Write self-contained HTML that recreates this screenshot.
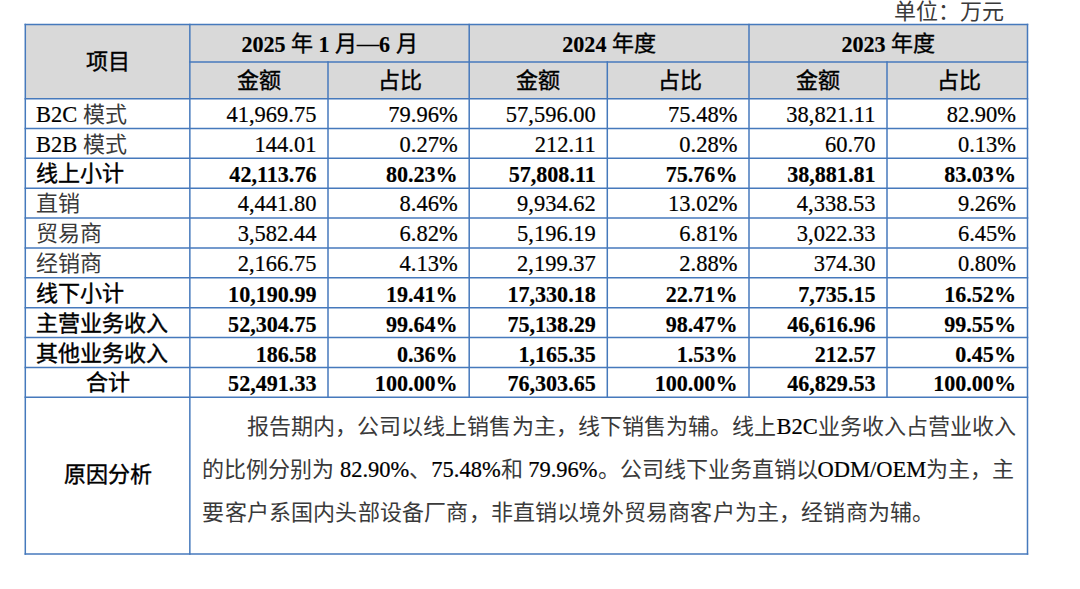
<!DOCTYPE html>
<html lang="zh-CN"><head><meta charset="utf-8"><style>
html,body{margin:0;padding:0;background:#fff;width:1080px;height:589px;overflow:hidden;}
body{position:relative;font-family:"Liberation Serif",serif;font-size:22px;color:#000;}
.t{position:absolute;white-space:nowrap;}
.b{font-weight:bold;}
.c{color:#3a3a3a;}
.b .c{color:#000;font-weight:normal;-webkit-text-stroke:0.4px #000;}
.l{display:inline-block;font-size:22.5px;transform:scaleY(1.06);transform-origin:0 var(--o);}
.l{-webkit-text-stroke:0.2px #000;}
.b .l{font-size:22.1px;transform:scaleY(1.09);position:relative;top:1.0px;-webkit-text-stroke:0.15px #000;}
svg{position:absolute;left:0;top:0;}
</style></head><body>
<svg width="1080" height="589">
<g><rect x="25.3" y="24.6" width="1002.2" height="74.05000000000001" fill="#d9d9d9"/></g>
<g stroke="#4679bc" stroke-width="1.5">
<line x1="24.55" y1="24.60" x2="1028.25" y2="24.60"/>
<line x1="189.10" y1="61.90" x2="1028.25" y2="61.90"/>
<line x1="24.55" y1="98.65" x2="1028.25" y2="98.65"/>
<line x1="24.55" y1="128.51" x2="1028.25" y2="128.51"/>
<line x1="24.55" y1="158.37" x2="1028.25" y2="158.37"/>
<line x1="24.55" y1="188.23" x2="1028.25" y2="188.23"/>
<line x1="24.55" y1="218.09" x2="1028.25" y2="218.09"/>
<line x1="24.55" y1="247.95" x2="1028.25" y2="247.95"/>
<line x1="24.55" y1="277.81" x2="1028.25" y2="277.81"/>
<line x1="24.55" y1="307.67" x2="1028.25" y2="307.67"/>
<line x1="24.55" y1="337.53" x2="1028.25" y2="337.53"/>
<line x1="24.55" y1="367.39" x2="1028.25" y2="367.39"/>
<line x1="24.55" y1="397.25" x2="1028.25" y2="397.25"/>
<line x1="24.55" y1="553.90" x2="1028.25" y2="553.90"/>
<line x1="25.30" y1="23.85" x2="25.30" y2="554.65"/>
<line x1="1027.50" y1="23.85" x2="1027.50" y2="554.65"/>
<line x1="189.85" y1="23.85" x2="189.85" y2="554.65"/>
<line x1="328.00" y1="61.15" x2="328.00" y2="398.00"/>
<line x1="607.30" y1="61.15" x2="607.30" y2="398.00"/>
<line x1="887.00" y1="61.15" x2="887.00" y2="398.00"/>
<line x1="469.20" y1="23.85" x2="469.20" y2="398.00"/>
<line x1="749.00" y1="23.85" x2="749.00" y2="398.00"/>
</g></svg>
<div class="t" style="left:800.00px;top:0.00px;width:203.50px;height:24.00px;line-height:24.00px;text-align:right;--o:19.43px;"><span class="c">单位：万元</span></div>
<div class="t b" style="left:25.30px;top:24.60px;width:164.55px;height:74.05px;line-height:74.05px;text-align:center;--o:44.46px;"><span class="c">项目</span></div>
<div class="t b" style="left:189.85px;top:25.30px;width:279.35px;height:37.30px;line-height:37.30px;text-align:center;--o:26.08px;"><span class="l">2025</span> <span class="c">年</span> <span class="l">1</span> <span class="c">月—</span><span class="l">6</span> <span class="c">月</span></div>
<div class="t b" style="left:469.20px;top:25.30px;width:279.80px;height:37.30px;line-height:37.30px;text-align:center;--o:26.08px;"><span class="l">2024</span> <span class="c">年度</span></div>
<div class="t b" style="left:749.00px;top:25.30px;width:278.50px;height:37.30px;line-height:37.30px;text-align:center;--o:26.08px;"><span class="l">2023</span> <span class="c">年度</span></div>
<div class="t b" style="left:189.85px;top:62.90px;width:138.15px;height:36.75px;line-height:36.75px;text-align:center;--o:25.81px;"><span class="c">金额</span></div>
<div class="t b" style="left:329.60px;top:62.90px;width:141.20px;height:36.75px;line-height:36.75px;text-align:center;--o:25.81px;"><span class="c">占比</span></div>
<div class="t b" style="left:469.20px;top:62.90px;width:138.10px;height:36.75px;line-height:36.75px;text-align:center;--o:25.81px;"><span class="c">金额</span></div>
<div class="t b" style="left:608.90px;top:62.90px;width:141.70px;height:36.75px;line-height:36.75px;text-align:center;--o:25.81px;"><span class="c">占比</span></div>
<div class="t b" style="left:749.00px;top:62.90px;width:138.00px;height:36.75px;line-height:36.75px;text-align:center;--o:25.81px;"><span class="c">金额</span></div>
<div class="t b" style="left:888.60px;top:62.90px;width:140.50px;height:36.75px;line-height:36.75px;text-align:center;--o:25.81px;"><span class="c">占比</span></div>
<div class="t" style="left:36.00px;top:99.65px;width:153.85px;height:29.86px;line-height:29.86px;text-align:left;--o:22.36px;"><span class="l">B2C</span> <span class="c">模式</span></div>
<div class="t" style="left:189.85px;top:99.65px;width:126.65px;height:29.86px;line-height:29.86px;text-align:right;--o:22.36px;"><span class="l">41,969.75</span></div>
<div class="t" style="left:328.00px;top:99.65px;width:129.70px;height:29.86px;line-height:29.86px;text-align:right;--o:22.36px;"><span class="l">79.96%</span></div>
<div class="t" style="left:469.20px;top:99.65px;width:126.60px;height:29.86px;line-height:29.86px;text-align:right;--o:22.36px;"><span class="l">57,596.00</span></div>
<div class="t" style="left:607.30px;top:99.65px;width:130.20px;height:29.86px;line-height:29.86px;text-align:right;--o:22.36px;"><span class="l">75.48%</span></div>
<div class="t" style="left:749.00px;top:99.65px;width:126.50px;height:29.86px;line-height:29.86px;text-align:right;--o:22.36px;"><span class="l">38,821.11</span></div>
<div class="t" style="left:887.00px;top:99.65px;width:129.00px;height:29.86px;line-height:29.86px;text-align:right;--o:22.36px;"><span class="l">82.90%</span></div>
<div class="t" style="left:36.00px;top:129.51px;width:153.85px;height:29.86px;line-height:29.86px;text-align:left;--o:22.36px;"><span class="l">B2B</span> <span class="c">模式</span></div>
<div class="t" style="left:189.85px;top:129.51px;width:126.65px;height:29.86px;line-height:29.86px;text-align:right;--o:22.36px;"><span class="l">144.01</span></div>
<div class="t" style="left:328.00px;top:129.51px;width:129.70px;height:29.86px;line-height:29.86px;text-align:right;--o:22.36px;"><span class="l">0.27%</span></div>
<div class="t" style="left:469.20px;top:129.51px;width:126.60px;height:29.86px;line-height:29.86px;text-align:right;--o:22.36px;"><span class="l">212.11</span></div>
<div class="t" style="left:607.30px;top:129.51px;width:130.20px;height:29.86px;line-height:29.86px;text-align:right;--o:22.36px;"><span class="l">0.28%</span></div>
<div class="t" style="left:749.00px;top:129.51px;width:126.50px;height:29.86px;line-height:29.86px;text-align:right;--o:22.36px;"><span class="l">60.70</span></div>
<div class="t" style="left:887.00px;top:129.51px;width:129.00px;height:29.86px;line-height:29.86px;text-align:right;--o:22.36px;"><span class="l">0.13%</span></div>
<div class="t b" style="left:36.00px;top:159.37px;width:153.85px;height:29.86px;line-height:29.86px;text-align:left;--o:22.36px;"><span class="c">线上小计</span></div>
<div class="t b" style="left:189.85px;top:159.37px;width:126.65px;height:29.86px;line-height:29.86px;text-align:right;--o:22.36px;"><span class="l">42,113.76</span></div>
<div class="t b" style="left:328.00px;top:159.37px;width:129.70px;height:29.86px;line-height:29.86px;text-align:right;--o:22.36px;"><span class="l">80.23%</span></div>
<div class="t b" style="left:469.20px;top:159.37px;width:126.60px;height:29.86px;line-height:29.86px;text-align:right;--o:22.36px;"><span class="l">57,808.11</span></div>
<div class="t b" style="left:607.30px;top:159.37px;width:130.20px;height:29.86px;line-height:29.86px;text-align:right;--o:22.36px;"><span class="l">75.76%</span></div>
<div class="t b" style="left:749.00px;top:159.37px;width:126.50px;height:29.86px;line-height:29.86px;text-align:right;--o:22.36px;"><span class="l">38,881.81</span></div>
<div class="t b" style="left:887.00px;top:159.37px;width:129.00px;height:29.86px;line-height:29.86px;text-align:right;--o:22.36px;"><span class="l">83.03%</span></div>
<div class="t" style="left:36.00px;top:189.23px;width:153.85px;height:29.86px;line-height:29.86px;text-align:left;--o:22.36px;"><span class="c">直销</span></div>
<div class="t" style="left:189.85px;top:189.23px;width:126.65px;height:29.86px;line-height:29.86px;text-align:right;--o:22.36px;"><span class="l">4,441.80</span></div>
<div class="t" style="left:328.00px;top:189.23px;width:129.70px;height:29.86px;line-height:29.86px;text-align:right;--o:22.36px;"><span class="l">8.46%</span></div>
<div class="t" style="left:469.20px;top:189.23px;width:126.60px;height:29.86px;line-height:29.86px;text-align:right;--o:22.36px;"><span class="l">9,934.62</span></div>
<div class="t" style="left:607.30px;top:189.23px;width:130.20px;height:29.86px;line-height:29.86px;text-align:right;--o:22.36px;"><span class="l">13.02%</span></div>
<div class="t" style="left:749.00px;top:189.23px;width:126.50px;height:29.86px;line-height:29.86px;text-align:right;--o:22.36px;"><span class="l">4,338.53</span></div>
<div class="t" style="left:887.00px;top:189.23px;width:129.00px;height:29.86px;line-height:29.86px;text-align:right;--o:22.36px;"><span class="l">9.26%</span></div>
<div class="t" style="left:36.00px;top:219.09px;width:153.85px;height:29.86px;line-height:29.86px;text-align:left;--o:22.36px;"><span class="c">贸易商</span></div>
<div class="t" style="left:189.85px;top:219.09px;width:126.65px;height:29.86px;line-height:29.86px;text-align:right;--o:22.36px;"><span class="l">3,582.44</span></div>
<div class="t" style="left:328.00px;top:219.09px;width:129.70px;height:29.86px;line-height:29.86px;text-align:right;--o:22.36px;"><span class="l">6.82%</span></div>
<div class="t" style="left:469.20px;top:219.09px;width:126.60px;height:29.86px;line-height:29.86px;text-align:right;--o:22.36px;"><span class="l">5,196.19</span></div>
<div class="t" style="left:607.30px;top:219.09px;width:130.20px;height:29.86px;line-height:29.86px;text-align:right;--o:22.36px;"><span class="l">6.81%</span></div>
<div class="t" style="left:749.00px;top:219.09px;width:126.50px;height:29.86px;line-height:29.86px;text-align:right;--o:22.36px;"><span class="l">3,022.33</span></div>
<div class="t" style="left:887.00px;top:219.09px;width:129.00px;height:29.86px;line-height:29.86px;text-align:right;--o:22.36px;"><span class="l">6.45%</span></div>
<div class="t" style="left:36.00px;top:248.95px;width:153.85px;height:29.86px;line-height:29.86px;text-align:left;--o:22.36px;"><span class="c">经销商</span></div>
<div class="t" style="left:189.85px;top:248.95px;width:126.65px;height:29.86px;line-height:29.86px;text-align:right;--o:22.36px;"><span class="l">2,166.75</span></div>
<div class="t" style="left:328.00px;top:248.95px;width:129.70px;height:29.86px;line-height:29.86px;text-align:right;--o:22.36px;"><span class="l">4.13%</span></div>
<div class="t" style="left:469.20px;top:248.95px;width:126.60px;height:29.86px;line-height:29.86px;text-align:right;--o:22.36px;"><span class="l">2,199.37</span></div>
<div class="t" style="left:607.30px;top:248.95px;width:130.20px;height:29.86px;line-height:29.86px;text-align:right;--o:22.36px;"><span class="l">2.88%</span></div>
<div class="t" style="left:749.00px;top:248.95px;width:126.50px;height:29.86px;line-height:29.86px;text-align:right;--o:22.36px;"><span class="l">374.30</span></div>
<div class="t" style="left:887.00px;top:248.95px;width:129.00px;height:29.86px;line-height:29.86px;text-align:right;--o:22.36px;"><span class="l">0.80%</span></div>
<div class="t b" style="left:36.00px;top:278.81px;width:153.85px;height:29.86px;line-height:29.86px;text-align:left;--o:22.36px;"><span class="c">线下小计</span></div>
<div class="t b" style="left:189.85px;top:278.81px;width:126.65px;height:29.86px;line-height:29.86px;text-align:right;--o:22.36px;"><span class="l">10,190.99</span></div>
<div class="t b" style="left:328.00px;top:278.81px;width:129.70px;height:29.86px;line-height:29.86px;text-align:right;--o:22.36px;"><span class="l">19.41%</span></div>
<div class="t b" style="left:469.20px;top:278.81px;width:126.60px;height:29.86px;line-height:29.86px;text-align:right;--o:22.36px;"><span class="l">17,330.18</span></div>
<div class="t b" style="left:607.30px;top:278.81px;width:130.20px;height:29.86px;line-height:29.86px;text-align:right;--o:22.36px;"><span class="l">22.71%</span></div>
<div class="t b" style="left:749.00px;top:278.81px;width:126.50px;height:29.86px;line-height:29.86px;text-align:right;--o:22.36px;"><span class="l">7,735.15</span></div>
<div class="t b" style="left:887.00px;top:278.81px;width:129.00px;height:29.86px;line-height:29.86px;text-align:right;--o:22.36px;"><span class="l">16.52%</span></div>
<div class="t b" style="left:36.00px;top:308.67px;width:153.85px;height:29.86px;line-height:29.86px;text-align:left;--o:22.36px;"><span class="c">主营业务收入</span></div>
<div class="t b" style="left:189.85px;top:308.67px;width:126.65px;height:29.86px;line-height:29.86px;text-align:right;--o:22.36px;"><span class="l">52,304.75</span></div>
<div class="t b" style="left:328.00px;top:308.67px;width:129.70px;height:29.86px;line-height:29.86px;text-align:right;--o:22.36px;"><span class="l">99.64%</span></div>
<div class="t b" style="left:469.20px;top:308.67px;width:126.60px;height:29.86px;line-height:29.86px;text-align:right;--o:22.36px;"><span class="l">75,138.29</span></div>
<div class="t b" style="left:607.30px;top:308.67px;width:130.20px;height:29.86px;line-height:29.86px;text-align:right;--o:22.36px;"><span class="l">98.47%</span></div>
<div class="t b" style="left:749.00px;top:308.67px;width:126.50px;height:29.86px;line-height:29.86px;text-align:right;--o:22.36px;"><span class="l">46,616.96</span></div>
<div class="t b" style="left:887.00px;top:308.67px;width:129.00px;height:29.86px;line-height:29.86px;text-align:right;--o:22.36px;"><span class="l">99.55%</span></div>
<div class="t b" style="left:36.00px;top:338.53px;width:153.85px;height:29.86px;line-height:29.86px;text-align:left;--o:22.36px;"><span class="c">其他业务收入</span></div>
<div class="t b" style="left:189.85px;top:338.53px;width:126.65px;height:29.86px;line-height:29.86px;text-align:right;--o:22.36px;"><span class="l">186.58</span></div>
<div class="t b" style="left:328.00px;top:338.53px;width:129.70px;height:29.86px;line-height:29.86px;text-align:right;--o:22.36px;"><span class="l">0.36%</span></div>
<div class="t b" style="left:469.20px;top:338.53px;width:126.60px;height:29.86px;line-height:29.86px;text-align:right;--o:22.36px;"><span class="l">1,165.35</span></div>
<div class="t b" style="left:607.30px;top:338.53px;width:130.20px;height:29.86px;line-height:29.86px;text-align:right;--o:22.36px;"><span class="l">1.53%</span></div>
<div class="t b" style="left:749.00px;top:338.53px;width:126.50px;height:29.86px;line-height:29.86px;text-align:right;--o:22.36px;"><span class="l">212.57</span></div>
<div class="t b" style="left:887.00px;top:338.53px;width:129.00px;height:29.86px;line-height:29.86px;text-align:right;--o:22.36px;"><span class="l">0.45%</span></div>
<div class="t b" style="left:25.30px;top:368.39px;width:164.55px;height:29.86px;line-height:29.86px;text-align:center;--o:22.36px;"><span class="c">合计</span></div>
<div class="t b" style="left:189.85px;top:368.39px;width:126.65px;height:29.86px;line-height:29.86px;text-align:right;--o:22.36px;"><span class="l">52,491.33</span></div>
<div class="t b" style="left:328.00px;top:368.39px;width:129.70px;height:29.86px;line-height:29.86px;text-align:right;--o:22.36px;"><span class="l">100.00%</span></div>
<div class="t b" style="left:469.20px;top:368.39px;width:126.60px;height:29.86px;line-height:29.86px;text-align:right;--o:22.36px;"><span class="l">76,303.65</span></div>
<div class="t b" style="left:607.30px;top:368.39px;width:130.20px;height:29.86px;line-height:29.86px;text-align:right;--o:22.36px;"><span class="l">100.00%</span></div>
<div class="t b" style="left:749.00px;top:368.39px;width:126.50px;height:29.86px;line-height:29.86px;text-align:right;--o:22.36px;"><span class="l">46,829.53</span></div>
<div class="t b" style="left:887.00px;top:368.39px;width:129.00px;height:29.86px;line-height:29.86px;text-align:right;--o:22.36px;"><span class="l">100.00%</span></div>
<div class="t b" style="left:25.30px;top:397.25px;width:164.55px;height:156.65px;line-height:156.65px;text-align:center;--o:85.75px;"><span class="c">原因分析</span></div>
<div class="t" style="left:202.40px;top:404.50px;width:814.10px;height:43.00px;line-height:43.00px;text-align:justify;--o:28.93px;text-align-last:justify;"><span class="c">　　报告期内，公司以线上销售为主，线下销售为辅。线上</span><span class="l">B2C</span><span class="c">业务收入占营业收入</span></div>
<div class="t" style="left:202.40px;top:447.50px;width:810.60px;height:43.00px;line-height:43.00px;text-align:justify;--o:28.93px;text-align-last:justify;"><span class="c">的比例分别为</span> <span class="l">82.90%</span><span class="c">、</span><span class="l">75.48%</span><span class="c">和</span> <span class="l">79.96%</span><span class="c">。公司线下业务直销以</span><span class="l">ODM/OEM</span><span class="c">为主，主</span></div>
<div class="t" style="left:202.40px;top:490.50px;width:810.60px;height:43.00px;line-height:43.00px;text-align:left;--o:28.93px;letter-spacing:0.18px;"><span class="c">要客户系国内头部设备厂商，非直销以境外贸易商客户为主，经销商为辅。</span></div>
</body></html>
